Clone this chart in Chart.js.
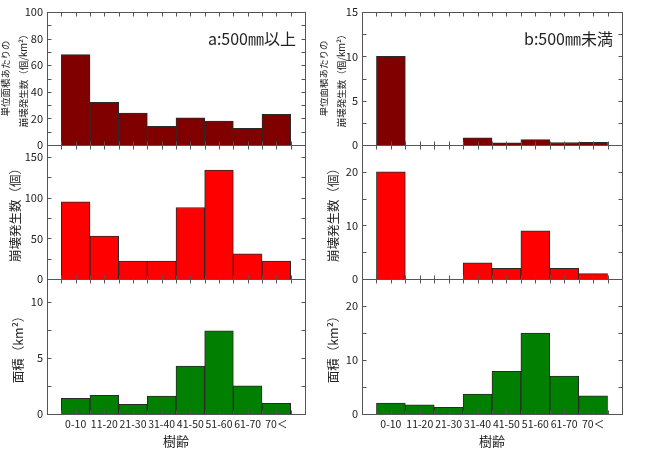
<!DOCTYPE html>
<html>
<head>
<meta charset="utf-8">
<script src="https://cdn.jsdelivr.net/npm/chart.js@4.4.1/dist/chart.umd.min.js"></script>
<style>
  html, body { margin: 0; padding: 0; background: #fff; }
  #wrap { position: relative; width: 653px; height: 449px; overflow: hidden; }
  canvas { position: absolute; }
</style>
</head>
<body>
<div id="wrap">
  <canvas id="a1"></canvas>
  <canvas id="a2"></canvas>
  <canvas id="a3"></canvas>
  <canvas id="b1"></canvas>
  <canvas id="b2"></canvas>
  <canvas id="b3"></canvas>
</div>
<script>
// Data
const ageLabels = ['0-10', '11-20', '21-30', '31-40', '41-50', '51-60', '61-70', '70＜'];

// a: 500mm以上
const densityA = [68, 32, 24, 14, 20.5, 18, 12.5, 23];
const countA = [95, 53, 22, 22, 88, 134, 31, 22];
const areaA = [1.4, 1.65, 0.85, 1.6, 4.25, 7.4, 2.5, 0.95];

// b: 500mm未満
const densityB = [10, 0, 0, 0.8, 0.25, 0.6, 0.28, 0.3];
const countB = [20, 0, 0, 3, 2, 9, 2, 1];
const areaB = [2.0, 1.7, 1.25, 3.7, 7.9, 15, 7, 3.35];

const yTitleDensity = ['単位面積あたりの', '崩壊発生数（個/km²）'];
const yTitleCount = '崩壊発生数（個）';
const yTitleArea = '面積（km²）';
const xTitle = '樹齢';

Chart.defaults.font.family = '"Noto Sans CJK JP", sans-serif';
Chart.defaults.color = '#333';

// blank slot on both sides so bars sit half a bar away from the frame
const slotLabels = ['', ...ageLabels, ''];
const pad = arr => [null, ...arr, null];

const isStep = (v, step) => Math.abs(v / step - Math.round(v / step)) < 1e-6;

// frame with inward ticks on all four sides + panel label
const framePlugin = {
    id: 'frame',
    afterDatasetsDraw(chart, args, opts) {
        const { ctx, chartArea: a, scales: { x, y } } = chart;
        const L = Math.round(a.left) + 0.5, R = Math.round(a.right) + 0.5;
        const T = Math.round(a.top) + 0.5, B = Math.round(a.bottom) + 0.5;
        ctx.save();
        ctx.strokeStyle = '#555';
        ctx.lineWidth = 1;
        ctx.beginPath();
        for (let v = 0.5; v <= ageLabels.length + 0.5; v += 0.5) {
            const px = Math.round(x.getPixelForValue(v)) + 0.5;
            ctx.moveTo(px, T); ctx.lineTo(px, T + 4);
            ctx.moveTo(px, B); ctx.lineTo(px, B - 4);
        }
        y.ticks.forEach(t => {
            if (!isStep(t.value, opts.minor)) return;
            const py = Math.round(y.getPixelForValue(t.value)) + 0.5;
            ctx.moveTo(L, py); ctx.lineTo(L + 4, py);
            ctx.moveTo(R, py); ctx.lineTo(R - 4, py);
        });
        ctx.stroke();
        ctx.strokeRect(L, T, R - L, B - T);

        if (opts.label) {
            ctx.fillStyle = '#222';
            ctx.font = '16px "Noto Sans CJK JP", sans-serif';
            ctx.textAlign = 'right';
            ctx.textBaseline = 'middle';
            ctx.fillText(opts.label, a.right - 9, a.top + 27);
        }
        ctx.restore();
    }
};

// column / row geometry
const cols = {
    a: { left: 0, width: 320, axisW: 47, padR: 15 },
    b: { left: 320, width: 333, axisW: 42, padR: 31 }
};
const rows = [
    { top: 0, height: 160, padT: 12, padB: 15 },
    { top: 130, height: 165, padT: 15, padB: 16 },
    { top: 264, height: 185, padT: 15, padB: 0 }
];

function makePanel(id, col, row, values, color, cfg) {
    const canvas = document.getElementById(id);
    canvas.width = col.width;
    canvas.height = row.height;
    canvas.style.left = col.left + 'px';
    canvas.style.top = row.top + 'px';

    const showX = !!cfg.showX;

    return new Chart(canvas, {
        type: 'bar',
        data: {
            labels: slotLabels,
            datasets: [{
                data: pad(values),
                backgroundColor: color,
                borderColor: '#2a2a2a',
                borderWidth: 1,
                categoryPercentage: 1,
                barPercentage: 1
            }]
        },
        options: {
            responsive: false,
            animation: false,
            layout: { padding: { left: 0, right: col.padR, top: row.padT, bottom: row.padB } },
            plugins: {
                legend: { display: false },
                tooltip: { enabled: false },
                frame: { minor: cfg.minor, label: cfg.label }
            },
            scales: {
                x: {
                    display: showX,
                    offset: false,
                    grid: { display: false, drawTicks: false },
                    border: { display: false },
                    ticks: {
                        autoSkip: false,
                        maxRotation: 0,
                        minRotation: 0,
                        padding: 4,
                        color: '#222',
                        font: { size: 10.5 }
                    },
                    title: {
                        display: showX,
                        text: xTitle,
                        color: '#222',
                        font: { size: 13 },
                        padding: { top: 0, bottom: 0 }
                    },
                    afterFit: s => { if (showX) s.height = 35; }
                },
                y: {
                    min: 0,
                    max: cfg.max,
                    grid: { display: false, drawTicks: false },
                    border: { display: false },
                    ticks: {
                        stepSize: cfg.minor,
                        maxTicksLimit: 20,
                        autoSkip: false,
                        padding: 4,
                        color: '#222',
                        font: { size: 11 },
                        callback: v => isStep(v, cfg.major) ? v : ''
                    },
                    title: {
                        display: true,
                        text: cfg.title,
                        color: '#222',
                        font: { size: cfg.titleSize, lineHeight: cfg.titleLH || 1.2 },
                        padding: { top: cfg.titlePad, bottom: 0 }
                    },
                    afterFit: s => { s.width = col.axisW; }
                }
            }
        },
        plugins: [framePlugin]
    });
}

const darkRed = '#800000';
const red = '#ff0000';
const green = '#007f00';

// a column
makePanel('a1', cols.a, rows[0], densityA, darkRed, {
    max: 100, major: 20, minor: 10, title: yTitleDensity, titleSize: 9.5, titleLH: 1.9, titlePad: -4,
    label: 'a:500㎜以上'
});
makePanel('a2', cols.a, rows[1], countA, red, {
    max: 165, major: 50, minor: 25, title: yTitleCount, titleSize: 12.5, titlePad: 8
});
makePanel('a3', cols.a, rows[2], areaA, green, {
    max: 12, major: 5, minor: 2.5, title: yTitleArea, titleSize: 12.5, titlePad: 11, showX: true
});

// b column
makePanel('b1', cols.b, rows[0], densityB, darkRed, {
    max: 15, major: 5, minor: 2.5, title: yTitleDensity, titleSize: 9.5, titleLH: 1.9, titlePad: -6,
    label: 'b:500㎜未満'
});
makePanel('b2', cols.b, rows[1], countB, red, {
    max: 25, major: 10, minor: 5, title: yTitleCount, titleSize: 12.5, titlePad: 6
});
makePanel('b3', cols.b, rows[2], areaB, green, {
    max: 25, major: 10, minor: 5, title: yTitleArea, titleSize: 12.5, titlePad: 6, showX: true
});
</script>
</body>
</html>
